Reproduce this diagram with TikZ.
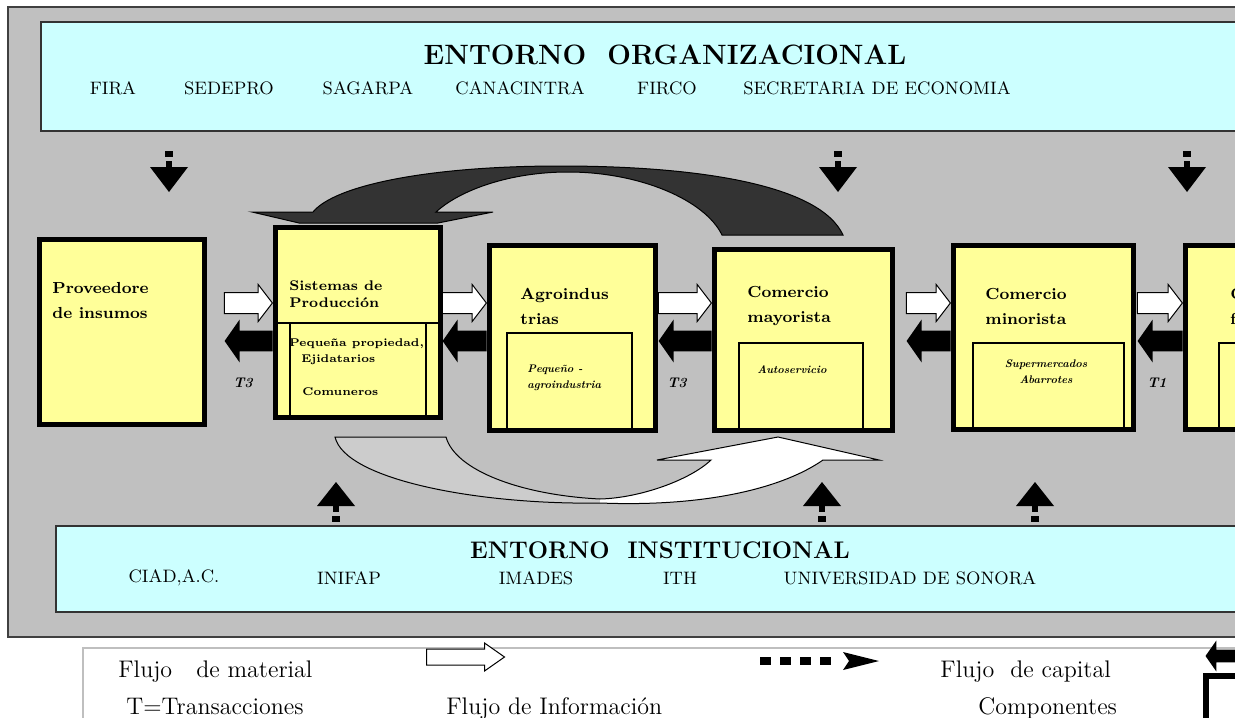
\documentclass[tikz,border=0pt]{standalone}
\usepackage{fontspec}
\usetikzlibrary{shapes.arrows}
\definecolor{panel}{HTML}{C0C0C0}
\definecolor{cian}{HTML}{CCFFFF}
\definecolor{amarillo}{HTML}{FFFF99}
\definecolor{oscuro}{HTML}{333333}
\definecolor{claro}{HTML}{CCCCCC}
\begin{document}
\begin{tikzpicture}[x=.5pt,y=-.5pt,
  caja/.style={draw,line width=2.5pt,fill=amarillo,inner sep=0pt},
  interior/.style={draw,line width=.8pt},
  entorno/.style={draw=black!80,line width=1pt,fill=cian,inner sep=0pt,anchor=north west},
  titulo/.style={font=\bfseries\fontsize{14}{16}\selectfont},
  sigla/.style={font=\fontsize{9}{10}\selectfont},
  txt/.style={anchor=west,align=left,inner sep=0pt,font=\bfseries\fontsize{8}{12.5}\selectfont},
  chico/.style={anchor=west,align=left,inner sep=0pt,font=\bfseries\fontsize{5.6}{8}\selectfont},
  cursiva/.style={align=center,inner sep=0pt,font=\bfseries\itshape\fontsize{5.5}{8}\selectfont},
  matflujo/.style={single arrow,draw,line width=.5pt,fill=white,inner xsep=0pt,inner ysep=5pt,
    single arrow head extend=4pt,single arrow tip angle=105},
  capflujo/.style={single arrow,fill=black,inner xsep=0pt,inner ysep=5pt,
    single arrow head extend=5.5pt,single arrow tip angle=110,rotate=180},
  leyenda/.style={anchor=base west,inner sep=0pt,font=\fontsize{12}{14}\selectfont}]
\clip (0,0) rectangle (1235,717);
\fill[white] (0,0) rectangle (1235,717);
\draw[fill=panel,draw=black!75,line width=1pt] (8,7) rectangle (1260,637);

\node[entorno,minimum width=610pt,minimum height=54.5pt] (org) at (40,21) {};
\node[titulo] (torg) at (665,55) {ENTORNO\ \ ORGANIZACIONAL};
\foreach \t/\x [count=\i] in {FIRA/113,SEDEPRO/229,SAGARPA/368,CANACINTRA/520,FIRCO/667,SECRETARIA DE ECONOMIA/877}
{
    \node[sigla] (o\i) at (\x,88) {\t};
}
\node[entorno,minimum width=602.5pt,minimum height=43pt] (inst) at (55,525) {};
\node[titulo,font=\bfseries\fontsize{12}{14}\selectfont] (tinst) at (660,550) {ENTORNO\ \ INSTITUCIONAL};
\foreach \t/\x [count=\i] in {{CIAD,A.C.}/174,INIFAP/349,IMADES/536,ITH/680,UNIVERSIDAD DE SONORA/910}
{
    \node[sigla] (i\i) at (\x,578) {\t};
}

\foreach \x in {169,838,1187}
{
    \fill (\x-4,151) rectangle (\x+4,157);
    \fill (\x-3,161) rectangle (\x+3,168);
    \fill (\x-19,167) -- (\x+19,167) -- (\x,192) -- cycle;
}
\foreach \x in {336,822,1035}
{
    \fill (\x-4,516) rectangle (\x+4,522);
    \fill (\x-3,505) rectangle (\x+3,512);
    \fill (\x-19,506) -- (\x+19,506) -- (\x,482) -- cycle;
}

\draw[fill=oscuro,line width=.5pt] (252,212) -- (313,212)
    .. controls (335,185) and (430,166) .. (560,166)
    .. controls (700,166) and (820,185) .. (843,235) -- (722,235)
    .. controls (705,200) and (640,172) .. (568,172)
    .. controls (510,172) and (460,190) .. (436,212)
    -- (493,212) -- (438,223) -- (299,223) -- cycle;

\node[caja,minimum width=82.5pt,minimum height=92.5pt] (prov) at (122,332) {};
\node[caja,minimum width=82.5pt,minimum height=95pt] (sist) at (358,322.5) {};
\node[caja,minimum width=83pt,minimum height=92.5pt] (agro) at (572.5,338) {};
\node[caja,minimum width=89pt,minimum height=90.5pt] (mayo) at (803.5,340) {};
\node[caja,minimum width=90pt,minimum height=92pt] (mino) at (1043.5,337.5) {};
\node[caja,minimum width=86pt,minimum height=92pt] (cons) at (1271.5,337.5) {};

\draw[interior] (276,323) -- (440,323) (290,323) -- (290,418) (426,323) -- (426,418);
\draw[interior] (507,430) |- (632,333) -- (632,430);
\draw[interior] (739,430) |- (863,343) -- (863,430);
\draw[interior] (973,430) |- (1124,343) -- (1124,430);
\draw[interior] (1219,430) |- (1300,343) -- (1300,430);

\node[txt] (tprov) at (52,301) {Proveedore\\de insumos};
\node[txt,font=\bfseries\fontsize{7}{8.5}\selectfont] (tsist) at (289,294) {Sistemas de\\Producción};
\node[chico] (tpeq) at (289,352) {Pequeña propiedad,\\\hspace{6pt}Ejidatarios};
\node[chico] (tcom) at (302,392) {Comuneros};
\node[txt] (tagro) at (520,306) {Agroindus\\trias};
\node[txt] (tmayo) at (747,306) {Comercio\\mayorista};
\node[txt] (tmino) at (985,306) {Comercio\\minorista};
\node[txt] (tcons) at (1230,306) {Consumidor\\final};
\node[cursiva,align=left,anchor=west] (tpag) at (527,378) {Pequeño -\\agroindustria};
\node[cursiva,anchor=west] (taut) at (757,370) {Autoservicio};
\node[cursiva] (tsup) at (1046,372) {Supermercados\\Abarrotes};

\coordinate (lw) at (0,303);
\coordinate (lb) at (0,341);
\foreach \b/\l [count=\i] in {sist/24,agro/22,mayo/26.5,mino/22,cons/22.5}
{
    \node[matflujo,minimum height=\l pt,anchor=tip] (m\i) at (\b.west |- lw) {};
    \node[capflujo,minimum height=\l pt,anchor=tail] (c\i) at (\b.west |- lb) {};
}
\foreach \x/\t [count=\i] in {243/T3,677/T3,1157/T1}
{
    \node[cursiva,font=\bfseries\itshape\fontsize{7}{8}\selectfont] (t\i) at (\x,383) {\t};
}

\draw[fill=white,line width=.5pt,path picture={\fill[claro] (0,0) rectangle (600,717);}]
    (335,437) -- (446,437)
    .. controls (455,470) and (520,495) .. (600,499)
    .. controls (640,498) and (690,480) .. (711,460)
    -- (657,460) -- (778,437) -- (879,460) -- (823,460)
    .. controls (780,490) and (700,507) .. (600,503)
    .. controls (480,505) and (345,480) .. (335,437) -- cycle;

\draw[black!25,line width=.6pt] (83,730) -- (83,648) -- (1260,648);
\node[leyenda] (lmt) at (118,677) {Flujo\hspace{12pt}de material};
\node[single arrow,draw,line width=.5pt,fill=white,inner xsep=0pt,inner ysep=3.75pt,
    single arrow head extend=3pt,single arrow tip angle=70,minimum height=39pt,anchor=tail] (lmat) at (426,657) {};
\foreach \x in {760,780,800,820}
{
    \fill (\x,657) rectangle (\x+11,665);
}
\fill (843,652) -- (879,661) -- (843,670) -- (849,661) -- cycle;
\node[leyenda] (lcap) at (940,677) {Flujo\hspace{8pt}de capital};
\node[capflujo,inner ysep=3pt,single arrow head extend=4.5pt,minimum height=30pt,anchor=tip] (lneg) at (1205,656) {};
\node[leyenda] (ltra) at (126,714) {T=Transacciones};
\node[leyenda] (linf) at (446,714) {Flujo de Información};
\node[leyenda] (lcomp) at (978,714) {Componentes};
\draw[line width=3pt,fill=white] (1206,676) rectangle (1260,740);
\end{tikzpicture}
\end{document}
